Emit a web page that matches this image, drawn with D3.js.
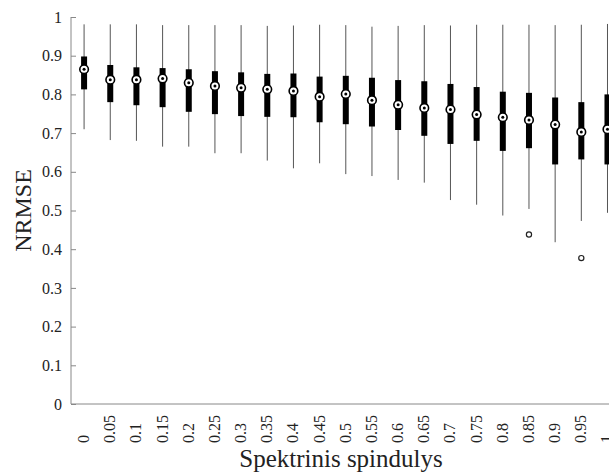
<!DOCTYPE html>
<html>
<head>
<meta charset="utf-8">
<script src="https://cdn.jsdelivr.net/npm/d3@7/dist/d3.min.js"></script>
<style>
  html, body { margin: 0; padding: 0; background: #fff; overflow: hidden; }
  svg { display: block; }
  svg text { font-family: "Liberation Serif", "DejaVu Serif", serif !important; fill: #222; }
</style>
</head>
<body>
<svg id="chart" width="609" height="474"></svg>
<script>
// Spectral radius values (groups)
const categories = ["0","0.05","0.1","0.15","0.2","0.25","0.3","0.35","0.4","0.45","0.5",
                    "0.55","0.6","0.65","0.7","0.75","0.8","0.85","0.9","0.95","1"];
// Box statistics of NRMSE per group
const whiskerHigh = [0.981,0.981,0.981,0.979,0.979,0.979,0.979,0.977,0.978,0.980,0.979,
                     0.975,0.977,0.979,0.978,0.980,0.980,0.980,0.979,0.980,0.982];
const quartile3   = [0.898,0.876,0.870,0.868,0.865,0.860,0.857,0.853,0.854,0.846,0.848,
                     0.843,0.837,0.834,0.827,0.819,0.807,0.804,0.792,0.780,0.800];
const medians     = [0.865,0.838,0.838,0.841,0.830,0.822,0.817,0.813,0.809,0.794,0.801,
                     0.785,0.773,0.765,0.761,0.748,0.741,0.734,0.722,0.703,0.710];
const quartile1   = [0.813,0.780,0.772,0.767,0.755,0.749,0.744,0.742,0.741,0.728,0.723,
                     0.717,0.708,0.693,0.672,0.680,0.654,0.661,0.619,0.632,0.619];
const whiskerLow  = [0.710,0.682,0.680,0.665,0.665,0.648,0.648,0.629,0.609,0.622,0.594,
                     0.589,0.579,0.572,0.527,0.515,0.487,0.504,0.418,0.473,0.494];
const outlierGroups = ["0.85","0.95"];
const outlierValues = [0.438,0.377];
const yTicks = [0,0.1,0.2,0.3,0.4,0.5,0.6,0.7,0.8,0.9,1];

const serif = '"Liberation Serif", "DejaVu Serif", serif';
const svg = d3.select("#chart");
const axisLeftX = 71, axisBottomY = 404, axisTopY = 17;

const x = d3.scaleBand().domain(categories).range([axisLeftX, axisLeftX + 21 * 26.17]);
const y = d3.scaleLinear().domain([0, 1]).range([axisBottomY, axisTopY]);
const cx = c => x(c) + x.bandwidth() / 2;

const boxes = categories.map((c, i) => ({
  c, hi: whiskerHigh[i], q3: quartile3[i], med: medians[i], q1: quartile1[i], lo: whiskerLow[i]
}));

// Y axis with inward ticks
const yAxis = svg.append("g")
  .attr("transform", `translate(${axisLeftX},0)`)
  .call(d3.axisLeft(y).tickValues(yTicks).tickFormat(d => String(+d.toFixed(1)))
        .tickSizeInner(-5).tickSizeOuter(0).tickPadding(9));
yAxis.attr("font-family", serif);
yAxis.select(".domain").attr("stroke", "#888").attr("d", `M0,${axisTopY}V${axisBottomY}`);
yAxis.selectAll(".tick line").attr("stroke", "#888");
yAxis.selectAll(".tick text").attr("font-family", serif).style("font-size", "16px").attr("fill", "#222");

// X axis line
svg.append("line")
  .attr("x1", axisLeftX).attr("x2", x.range()[1])
  .attr("y1", axisBottomY).attr("y2", axisBottomY)
  .attr("stroke", "#888").attr("stroke-width", 1);

// Rotated group labels
svg.append("g").selectAll("text").data(categories).join("text")
  .attr("transform", d => `translate(${cx(d) + 5},443) rotate(-90)`)
  .attr("text-anchor", "start")
  .attr("font-family", serif)
  .style("font-size", "16px")
  .text(d => d);

const plot = svg.append("g");

// Whiskers
plot.selectAll("line.whisker").data(boxes).join("line")
  .attr("class", "whisker")
  .attr("x1", d => cx(d.c)).attr("x2", d => cx(d.c))
  .attr("y1", d => y(d.hi)).attr("y2", d => y(d.lo))
  .attr("stroke", "#555").attr("stroke-width", 1);

// Compact boxes (interquartile range)
plot.selectAll("rect.box").data(boxes).join("rect")
  .attr("class", "box")
  .attr("x", d => cx(d.c) - 3).attr("width", 6)
  .attr("y", d => y(d.q3)).attr("height", d => y(d.q1) - y(d.q3))
  .attr("fill", "#000");

// Median markers: ringed circle with centre dot
plot.selectAll("circle.med").data(boxes).join("circle")
  .attr("class", "med")
  .attr("cx", d => cx(d.c)).attr("cy", d => y(d.med)).attr("r", 4.3)
  .attr("fill", "#fff").attr("stroke", "#000").attr("stroke-width", 1.6);
plot.selectAll("circle.meddot").data(boxes).join("circle")
  .attr("class", "meddot")
  .attr("cx", d => cx(d.c)).attr("cy", d => y(d.med)).attr("r", 1.5)
  .attr("fill", "#000");

// Outliers
plot.selectAll("circle.out").data(outlierGroups.map((g, i) => ({ g, v: outlierValues[i] }))).join("circle")
  .attr("class", "out")
  .attr("cx", d => cx(d.g)).attr("cy", d => y(d.v)).attr("r", 2.6)
  .attr("fill", "none").attr("stroke", "#222").attr("stroke-width", 1.2);

// Axis titles
svg.append("text")
  .attr("x", 341).attr("y", 467)
  .attr("text-anchor", "middle")
  .attr("font-family", serif)
  .style("font-size", "25px")
  .text("Spektrinis spindulys");

svg.append("text")
  .attr("transform", `translate(31,${(axisTopY + axisBottomY) / 2}) rotate(-90)`)
  .attr("text-anchor", "middle")
  .attr("font-family", serif)
  .style("font-size", "24px")
  .text("NRMSE");
</script>
</body>
</html>
